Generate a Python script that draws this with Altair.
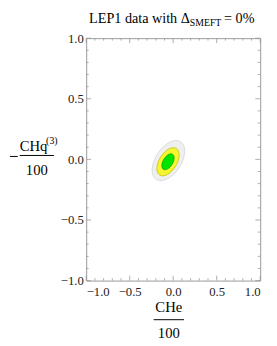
import altair as alt
import pandas as pd

# ---- data -------------------------------------------------------------
levels = ["3σ", "2σ", "1σ"]            # outer -> inner confidence regions
center_x = [-0.055, -0.06, -0.06]       # CHe/100 best fit
center_y = [-0.01, -0.02, -0.02]        # -CHq(3)/100 best fit
tilt_deg = [33, 32, 31]
axis_ratio = [0.57, 0.56, 0.55]         # minor / major

major_ticks = [-1.0, -0.5, 0.0, 0.5, 1.0]
minor_ticks = [-0.9, -0.8, -0.7, -0.6, -0.4, -0.3, -0.2, -0.1,
               0.1, 0.2, 0.3, 0.4, 0.6, 0.7, 0.8, 0.9]

# ---- layout / style ---------------------------------------------------
W, H = 178, 248
FONT = "Liberation Serif"
FRAME = "#9a9a9a"
SIZES = [2116, 1024, 324]
FILLS = ["#efefef", "#f6f630", "#00e400"]
STROKES = ["#d4d4d4", "#c0c000", "#00a000"]


def ellipse_path(r):
    k = 0.5523
    a = r
    return (f"M 0 -1 C {k*a:.4f} -1 {a:.4f} {-k:.4f} {a:.4f} 0 "
            f"C {a:.4f} {k:.4f} {k*a:.4f} 1 0 1 "
            f"C {-k*a:.4f} 1 {-a:.4f} {k:.4f} {-a:.4f} 0 "
            f"C {-a:.4f} {-k:.4f} {-k*a:.4f} -1 0 -1 Z")


xs = alt.Scale(domain=[-1, 1], nice=False, zero=False)
ys = alt.Scale(domain=[-1, 1], nice=False, zero=False)
label_expr = "replace(format(datum.value, '.1f'), '-', '−')"
xaxis = alt.Axis(values=major_ticks, ticks=False, domain=False, grid=False,
                 title=None, labelExpr=label_expr, labelFont=FONT,
                 labelFontSize=13, labelColor="#222", labelPadding=5)
yaxis = alt.Axis(values=major_ticks, ticks=False, domain=False, grid=False,
                 title=None, labelExpr=label_expr, labelFont=FONT,
                 labelFontSize=13, labelColor="#222", labelPadding=3)


def X(f):
    return alt.X(f, type="quantitative", scale=xs, axis=xaxis)


def Y(f):
    return alt.Y(f, type="quantitative", scale=ys, axis=yaxis)


ellipse_layers = []
for i, lev in enumerate(levels):
    df = pd.DataFrame({"level": [lev], "cx": [center_x[i]], "cy": [center_y[i]],
                       "tilt": [tilt_deg[i]]})
    ellipse_layers.append(
        alt.Chart(df).mark_point(filled=True, opacity=1, strokeWidth=0.7,
                                 shape=ellipse_path(axis_ratio[i]),
                                 fill=FILLS[i], stroke=STROKES[i],
                                 size=SIZES[i]).encode(
            x=X("cx"), y=Y("cy"),
            angle=alt.Angle("tilt:Q", scale=None),
        )
    )

majors = pd.DataFrame({"v": major_ticks})
minors = pd.DataFrame({"v": minor_ticks})
tick_layers = []
for df, L in ((majors, 5), (minors, 2.5)):
    base = alt.Chart(df).mark_rule(color=FRAME, strokeWidth=0.8)
    tick_layers += [
        base.encode(x=X("v"), y=alt.value(H), y2=alt.value(H - L)),
        base.encode(x=X("v"), y=alt.value(0), y2=alt.value(L)),
        base.encode(y=Y("v"), x=alt.value(0), x2=alt.value(L)),
        base.encode(y=Y("v"), x=alt.value(W), x2=alt.value(W - L)),
    ]

one = pd.DataFrame({"k": [0]})


def txt(s, x, y, size=14, align="left", baseline="alphabetic"):
    return alt.Chart(one).mark_text(font=FONT, fontSize=size, align=align,
                                    baseline=baseline, color="#000").encode(
        text=alt.value(s), x=alt.value(x), y=alt.value(y))


def bar(x1, x2, y):
    return alt.Chart(one).mark_rule(color="#000", strokeWidth=1).encode(
        x=alt.value(x1), x2=alt.value(x2), y=alt.value(y))


texts = [
    # title
    txt("LEP1 data with Δ", 106, -16, 14.5, align="right"),
    txt("SMEFT", 106, -12.5, 10),
    txt("= 0%", 141, -16, 14.5),
    # y title
    bar(-78, -70, 121),
    txt("CHq", -68, 115, 15),
    txt("(3)", -41, 108, 10),
    bar(-68, -33, 120),
    txt("100", -50.5, 140, 15, align="center"),
    # x title
    txt("CHe", 84.5, 280, 15, align="center"),
    bar(69, 100, 288),
    txt("100", 84.5, 307, 15, align="center"),
]

chart = alt.layer(*ellipse_layers, *tick_layers, *texts).properties(
    width=W, height=H,
    autosize=alt.AutoSizeParams(type="none"),
    padding={"left": 80, "top": 27, "right": 9, "bottom": 61},
).configure_view(stroke=FRAME, strokeWidth=1)

chart.save("out.html", embed_options={"renderer": "svg", "actions": False})
